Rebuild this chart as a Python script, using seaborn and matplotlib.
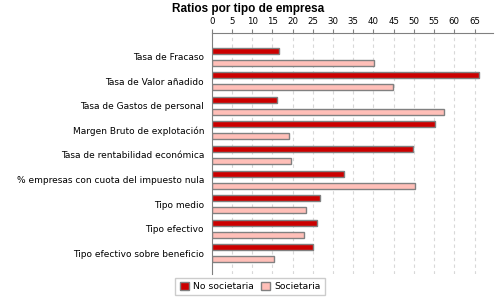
import matplotlib
matplotlib.use("Agg")
import matplotlib.pyplot as plt
import seaborn as sns
import pandas as pd
from matplotlib.patches import Patch

categories = [
    "Tasa de Fracaso",
    "Tasa de Valor añadido",
    "Tasa de Gastos de personal",
    "Margen Bruto de explotación",
    "Tasa de rentabilidad económica",
    "% empresas con cuota del impuesto nula",
    "Tipo medio",
    "Tipo efectivo",
    "Tipo efectivo sobre beneficio",
]
no_societaria = [16.7, 66.0, 16.2, 55.2, 49.9, 32.6, 26.9, 26.1, 25.1]
societaria = [40.1, 44.8, 57.4, 19.0, 19.7, 50.2, 23.4, 22.9, 15.5]
series = ["No societaria", "Societaria"]
colors = ["#CC0000", "#FFBFB8"]
xticks = list(range(0, 70, 5))

df = pd.DataFrame({
    "cat": categories * 2,
    "val": no_societaria + societaria,
    "serie": [series[0]] * len(categories) + [series[1]] * len(categories),
})

sns.set_style("white")
plt.rcParams["font.family"] = ["DejaVu Sans"]
plt.rcParams["text.color"] = "black"
plt.rcParams["xtick.color"] = "black"
plt.rcParams["ytick.color"] = "black"

fig = plt.figure(figsize=(5, 3), dpi=100)
ax = fig.add_axes([0.4234, 0.0867, 0.5620, 0.8033])

sns.barplot(data=df, y="cat", x="val", hue="serie", orient="h",
            palette=colors, hue_order=series, order=categories, saturation=1,
            width=0.98, gap=0.5, edgecolor="#808080", linewidth=1.0,
            legend=False, ax=ax, errorbar=None)

ax.set_xlim(0, 69.5)
ax.set_ylim(8.84, -0.96)
ax.set_xticks(xticks)
ax.xaxis.tick_top()
ax.tick_params(axis="x", top=True, bottom=False, labeltop=True, labelbottom=False,
               length=3, width=0.8, color="#808080", labelcolor="black",
               labelsize=6.2, pad=2)
ax.tick_params(axis="y", left=False, labelsize=6.5, pad=2, labelcolor="black")
ax.set_xlabel("")
ax.set_ylabel("")
ax.grid(axis="x", linestyle=(0, (3, 3)), color="#D8D8D8", linewidth=0.8)
ax.set_axisbelow(True)
for s in ["right", "bottom"]:
    ax.spines[s].set_visible(False)
for s in ["left", "top"]:
    ax.spines[s].set_color("#808080")
    ax.spines[s].set_linewidth(0.8)

fig.text(0.497, 0.99, "Ratios por tipo de empresa", ha="center", va="top",
         fontsize=8.5, fontweight="bold", family="Liberation Sans", color="black")

handles = [Patch(facecolor=c, edgecolor="#808080", label=l) for c, l in zip(colors, series)]
fig.legend(handles=handles, loc="lower center", bbox_to_anchor=(0.5, 0.0), ncol=2,
           fontsize=6.7, frameon=True, fancybox=False, edgecolor="#C0C0C0",
           handlelength=1.0, handleheight=1.0, handletextpad=0.4, columnspacing=0.8,
           borderpad=0.45)

fig.savefig("out.png", dpi=100)
